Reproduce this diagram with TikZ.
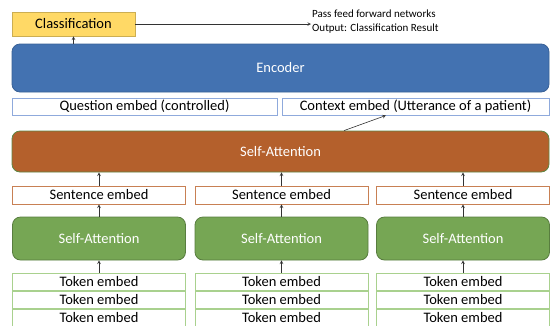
\documentclass[tikz,border=0pt]{standalone}
\usepackage{fontspec}
\setmainfont{Carlito}
\usepackage{tikz}
\usetikzlibrary{positioning,arrows}
\definecolor{encblue}{RGB}{67,114,177}
\definecolor{saorange}{RGB}{180,96,44}
\definecolor{sagreen}{RGB}{118,166,84}
\definecolor{clsyellow}{RGB}{255,217,102}
\tikzstyle{embed} = [rectangle, 
    draw=black, line width=0.8pt,
    fill=white,
    inner sep=0pt,
    minimum height=17pt, 
    text centered,
    font=\fontsize{14.5}{16}\selectfont]
\tikzstyle{arrow} = [semithick,->,>=stealth,draw=black!80]

\begin{document}
\begin{tikzpicture}[x=1pt,y=-1pt,
    Block/.style={rectangle, 
    rounded corners=8pt, 
    line width=0.8pt,
    inner sep=0pt,
    text=white,
    text centered,
    font=\fontsize{14.5}{16}\selectfont},
    qemb/.style={embed, draw={rgb,255:red,143;green,170;blue,220}},
    semb/.style={embed, draw={rgb,255:red,200;green,128;blue,84}, minimum width=173pt, minimum height=18pt},
    temb/.style={embed, draw={rgb,255:red,169;green,209;blue,142}, minimum width=173pt}
	]
  \useasboundingbox (0,0) rectangle (553,325);
  \node [rectangle, draw=clsyellow!80!black, line width=0.8pt, fill=clsyellow,
    minimum width=123pt, minimum height=24pt, inner sep=0pt,
    font=\fontsize{14.5}{16}\selectfont] (Cls) at (73.5,24) {Classification};
  \node [align=left, anchor=west, inner sep=1pt,
    font=\fontsize{11}{13.5}\selectfont] (Note) at (311,21.5) {Pass feed forward networks\\Output: Classification Result};
  \node [Block, fill=encblue, draw=encblue!85!black, minimum width=537pt, minimum height=48pt] (Enc) at (280.5,68) {Encoder};
  \node [qemb, minimum width=265pt] (Quest) at (144.5,106.5) {Question embed (controlled)};
  \node [qemb, minimum width=267pt] (Ctx) at (415.5,106.5) {Context embed (Utterance of a patient)};
  \node [Block, fill=saorange, draw=sagreen!80!black, minimum width=537pt, minimum height=41pt] (SA) at (280.5,151.5) {Self-Attention};
  % left column
  \node [semb] (SentA) at (99,195) {Sentence embed};
  \node [Block, fill=sagreen, draw=sagreen!75!black, minimum width=173pt, minimum height=43pt] (AttA) at (99,238.5) {Self-Attention};
  \node [temb] (TokA1) at (99,282) {Token embed};
  \node [temb, below=0pt of TokA1] (TokA2) {Token embed};
  \node [temb, below=0pt of TokA2] (TokA3) {Token embed};
  % middle column
  \node [semb] (SentB) at (281.5,195) {Sentence embed};
  \node [Block, fill=sagreen, draw=sagreen!75!black, minimum width=173pt, minimum height=43pt] (AttB) at (281.5,238.5) {Self-Attention};
  \node [temb] (TokB1) at (281.5,282) {Token embed};
  \node [temb, below=0pt of TokB1] (TokB2) {Token embed};
  \node [temb, below=0pt of TokB2] (TokB3) {Token embed};
  % right column
  \node [semb] (SentC) at (463,195) {Sentence embed};
  \node [Block, fill=sagreen, draw=sagreen!75!black, minimum width=173pt, minimum height=43pt] (AttC) at (463,238.5) {Self-Attention};
  \node [temb] (TokC1) at (463,282) {Token embed};
  \node [temb, below=0pt of TokC1] (TokC2) {Token embed};
  \node [temb, below=0pt of TokC2] (TokC3) {Token embed};
  % connectors
  \draw [arrow] (Enc.north -| Cls.south) -- (Cls.south);
  \draw [arrow] (Cls.east) -- (Cls.east -| Note.west);
  \draw [arrow] ([xshift=63.5pt]SA.north) -- ([xshift=-29.5pt]Ctx.south);
  \draw [arrow] (SentA.north) -- (SentA.north |- SA.south);
  \draw [arrow] (SentB.north) -- (SentB.north |- SA.south);
  \draw [arrow] (SentC.north) -- (SentC.north |- SA.south);
  \draw [arrow] (AttA) -- (SentA);
  \draw [arrow] (AttB) -- (SentB);
  \draw [arrow] (AttC) -- (SentC);
  \draw [arrow] (TokA1) -- (AttA);
  \draw [arrow] (TokB1) -- (AttB);
  \draw [arrow] (TokC1) -- (AttC);
\end{tikzpicture}
\end{document}
